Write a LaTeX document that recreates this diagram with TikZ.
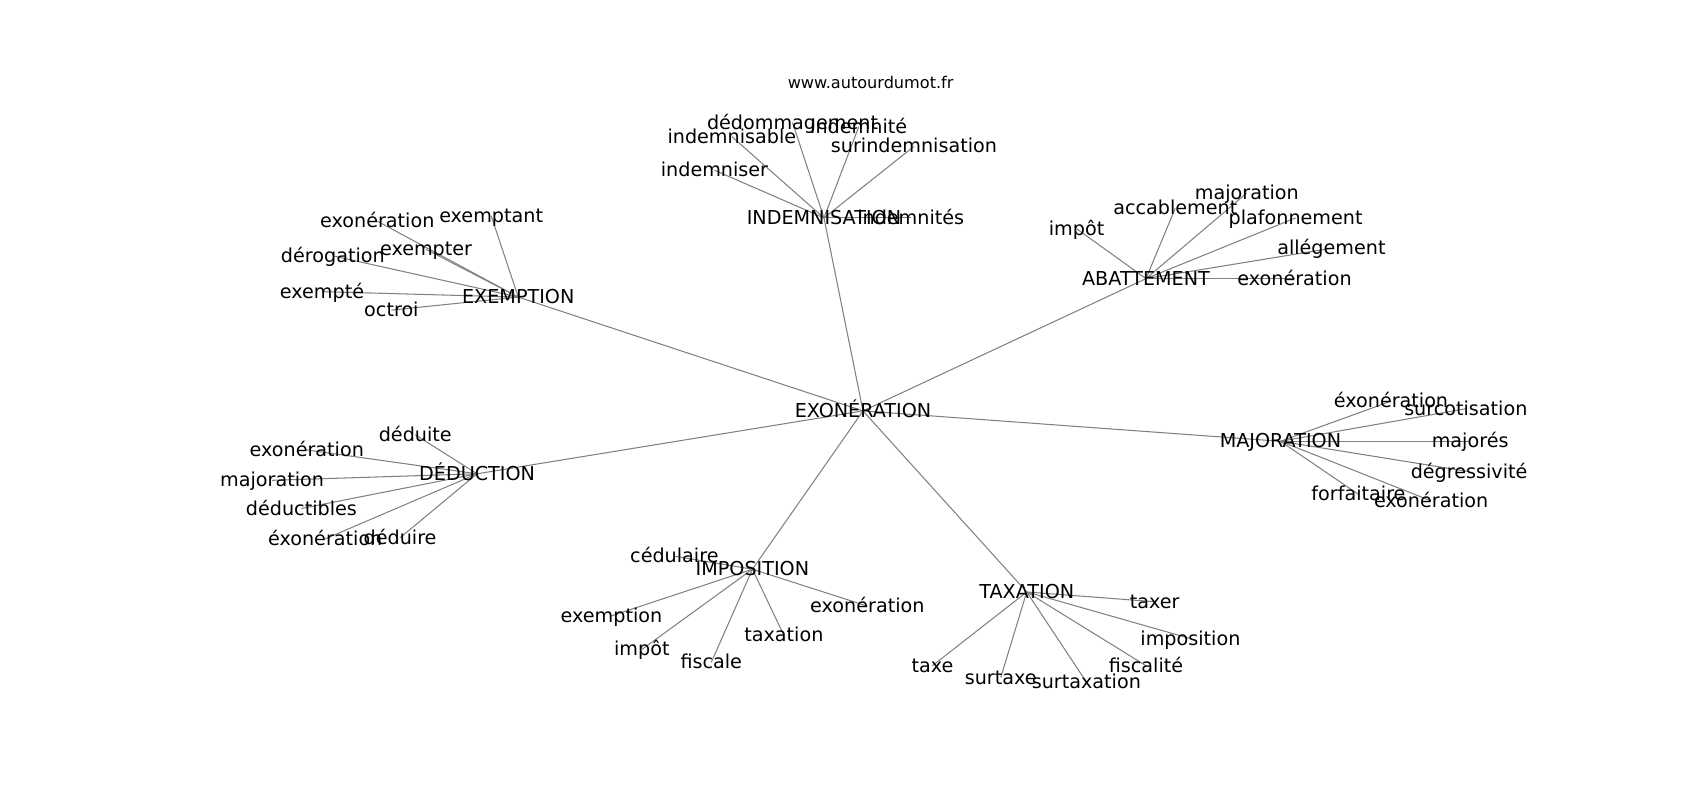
\documentclass[tikz,border=0pt]{standalone}
\usepackage{fontspec}
\setmainfont{DejaVu Sans}
\usetikzlibrary{backgrounds}
\begin{document}
\begin{tikzpicture}
	[
	x = {(0.7806pt, 0pt)},
	y = {(0pt, -0.7806pt)},
	edge/.style = {color = black!50, line width = 0.75pt},
	word/.style = {inner sep = 0pt, text height = 1.18em, text depth = 0.24em, font = \fontsize{13.8}{16}\selectfont},
	site/.style = {inner sep = 0pt, font = \fontsize{11.6}{14}\selectfont}]
	
	\useasboundingbox (0, 0) rectangle (1568, 738);
	
	\node[site] (site) at (803, 76) {www.autourdumot.fr};
	
	%% Drawing the hubs
	
	\node[word] (exoneration) at (796, 379) {EXONÉRATION};
	\node[word] (indemnisation) at (760, 201) {INDEMNISATION};
	\node[word] (exemption) at (478, 274) {EXEMPTION};
	\node[word] (abattement) at (1057, 257) {ABATTEMENT};
	\node[word] (majoration) at (1181, 407) {MAJORATION};
	\node[word] (deduction) at (440, 437) {DÉDUCTION};
	\node[word] (imposition) at (694, 525) {IMPOSITION};
	\node[word] (taxation) at (947, 546) {TAXATION};
	
	%% Drawing the leaves
	
	\node[word] (ind-a) at (731, 113) {dédommagement};
	\node[word] (ind-b) at (675, 126) {indemnisable};
	\node[word] (ind-c) at (792, 117) {indemnité};
	\node[word] (ind-d) at (843, 135) {surindemnisation};
	\node[word] (ind-e) at (659, 157) {indemniser};
	\node[word] (ind-f) at (840, 201) {indemnités};
	
	\node[word] (exe-a) at (348, 204) {exonération};
	\node[word] (exe-b) at (453, 199) {exemptant};
	\node[word] (exe-c) at (393, 230) {exempter};
	\node[word] (exe-d) at (307, 236) {dérogation};
	\node[word] (exe-e) at (297, 269) {exempté};
	\node[word] (exe-f) at (361, 286) {octroi};
	
	\node[word] (aba-a) at (993, 211) {impôt};
	\node[word] (aba-b) at (1084, 192) {accablement};
	\node[word] (aba-c) at (1150, 178) {majoration};
	\node[word] (aba-d) at (1195, 201) {plafonnement};
	\node[word] (aba-e) at (1228, 229) {allégement};
	\node[word] (aba-f) at (1194, 257) {exonération};
	
	\node[word] (maj-a) at (1283, 370) {éxonération};
	\node[word] (maj-b) at (1352, 377) {surcotisation};
	\node[word] (maj-c) at (1356, 407) {majorés};
	\node[word] (maj-d) at (1355, 435) {dégressivité};
	\node[word] (maj-e) at (1253, 456) {forfaitaire};
	\node[word] (maj-f) at (1320, 462) {exonération};
	
	\node[word] (ded-a) at (383, 401) {déduite};
	\node[word] (ded-b) at (283, 415) {exonération};
	\node[word] (ded-c) at (251, 443) {majoration};
	\node[word] (ded-d) at (278, 469) {déductibles};
	\node[word] (ded-e) at (300, 497) {éxonération};
	\node[word] (ded-f) at (369, 496) {déduire};
	
	\node[word] (imp-a) at (622, 513) {cédulaire};
	\node[word] (imp-b) at (564, 568) {exemption};
	\node[word] (imp-c) at (592, 599) {impôt};
	\node[word] (imp-d) at (656, 611) {fiscale};
	\node[word] (imp-e) at (723, 586) {taxation};
	\node[word] (imp-f) at (800, 559) {exonération};
	
	\node[word] (tax-a) at (1065, 555) {taxer};
	\node[word] (tax-b) at (1098, 589) {imposition};
	\node[word] (tax-c) at (1057, 614) {fiscalité};
	\node[word] (tax-d) at (1002, 629) {surtaxation};
	\node[word] (tax-e) at (923, 625) {surtaxe};
	\node[word] (tax-f) at (860, 614) {taxe};
	
	%% Drawing the edges behind the words
	
	\begin{scope}[on background layer]
		\foreach \h in {indemnisation, exemption, abattement, majoration, deduction, imposition, taxation}
			\draw[edge] (exoneration.center) -- (\h.center);
		\foreach \l in {a, b, c, d, e, f}
		{
			\draw[edge] (indemnisation.center) -- (ind-\l.center);
			\draw[edge] (exemption.center) -- (exe-\l.center);
			\draw[edge] (abattement.center) -- (aba-\l.center);
			\draw[edge] (majoration.center) -- (maj-\l.center);
			\draw[edge] (deduction.center) -- (ded-\l.center);
			\draw[edge] (imposition.center) -- (imp-\l.center);
			\draw[edge] (taxation.center) -- (tax-\l.center);
		}
	\end{scope}
\end{tikzpicture}
\end{document}
